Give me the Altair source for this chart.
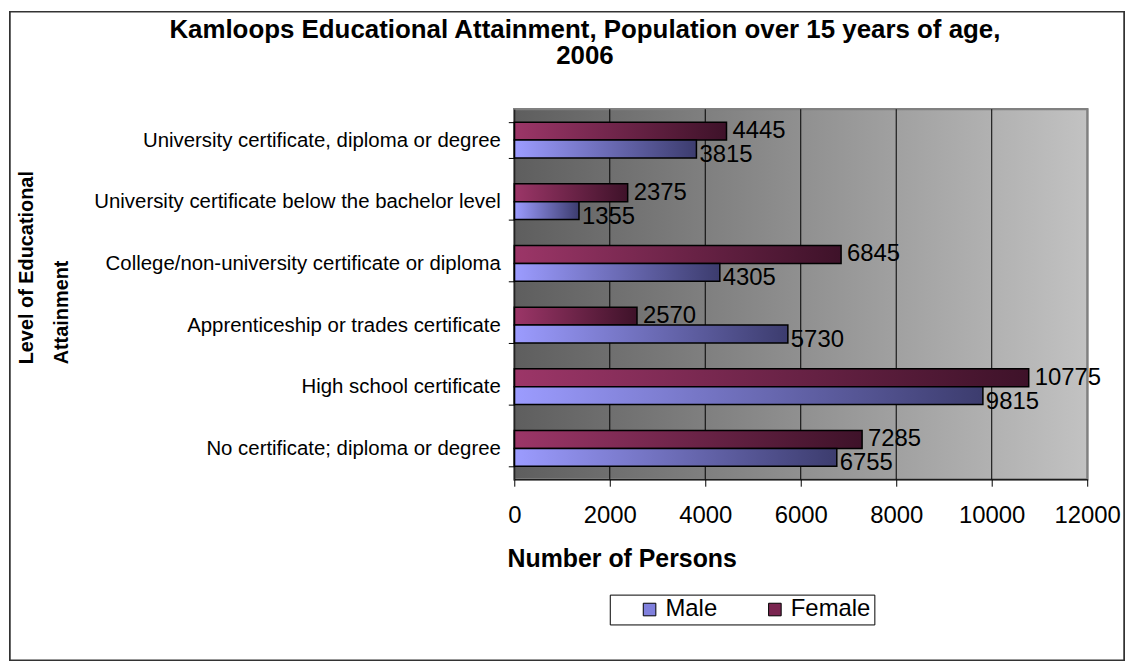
import altair as alt
import pandas as pd

categories = [
    "University certificate, diploma or degree",
    "University certificate below  the bachelor level",
    "College/non-university certificate or diploma",
    "Apprenticeship or trades certificate",
    "High school certificate",
    "No certificate; diploma or degree",
]
male = [3815, 1355, 4305, 5730, 9815, 6755]
female = [4445, 2375, 6845, 2570, 10775, 7285]
x_ticks = [0, 2000, 4000, 6000, 8000, 10000, 12000]
grid_values = [2000, 4000, 6000, 8000, 10000]
sexes = ["Female", "Male"]
legend_order = ["Male", "Female"]

rows = []
for c, m, f in zip(categories, male, female):
    rows.append({"category": c, "sex": "Female", "value": f})
    rows.append({"category": c, "sex": "Male", "value": m})
df = pd.DataFrame(rows)
grid_df = pd.DataFrame({"value": grid_values})

W, H = 576, 372
FONT = "Liberation Sans"
XTITLE = "Number of Persons"
YTITLE = ["Level of Educational", "Attainment"]


def grad(c0, c1):
    return alt.Gradient(
        gradient="linear",
        stops=[alt.GradientStop(color=c0, offset=0), alt.GradientStop(color=c1, offset=1)],
        x1=0, x2=1, y1=0, y2=0,
    )


x_scale = alt.Scale(domain=[0, 12000], nice=False, zero=True)
y_scale = alt.Scale(paddingInner=0.42, paddingOuter=0.21)
yoff_scale = alt.Scale(domain=sexes, paddingInner=0, paddingOuter=0)

x_axis = alt.Axis(
    values=x_ticks, grid=False, tickSize=7, labelFontSize=24, labelPadding=18,
    labelFont=FONT, labelColor="black", domainColor="black", tickColor="black",
    titleFont=FONT, titleFontSize=25, titleFontWeight="bold", titleColor="black",
    titleX=108, titleY=88, titleAlign="center", titleBaseline="alphabetic",
    zindex=1, labelFlush=False, format="d",
)
y_axis = alt.Axis(
    tickBand="extent", grid=False, tickSize=6, labelFontSize=20.5, labelPadding=8,
    labelFont=FONT, labelColor="black", labelLimit=600, domainColor="black", tickColor="black",
    titleFont=FONT, titleFontSize=20, titleFontWeight="bold", titleColor="black",
    titleAngle=270, titleX=-484, titleY=256, titleAlign="left",
    titleBaseline="alphabetic", titleLineHeight=35, zindex=1,
)

frame = alt.Chart(grid_df).mark_rect(fill="white", stroke="#333333", strokeWidth=1.5).encode(
    x=alt.value(-507), x2=alt.value(W + 37), y=alt.value(-98), y2=alt.value(H + 182)
)

bg = alt.Chart(grid_df).mark_rect(
    fill=grad("#5e5e5e", "#c2c2c2"), stroke="#808080", strokeWidth=2
).encode(x=alt.value(0), x2=alt.value(W), y=alt.value(0), y2=alt.value(H))

grid = alt.Chart(grid_df).mark_rule(color="black", strokeWidth=1).encode(
    x=alt.X("value:Q", scale=x_scale, title=XTITLE, axis=x_axis),
    y=alt.value(0), y2=alt.value(H),
)

base = alt.Chart(df)
x_enc = alt.X("value:Q", scale=x_scale, title=XTITLE, axis=x_axis)
y_enc = alt.Y("category:N", sort=categories, scale=y_scale, title=YTITLE, axis=y_axis)
yo_enc = alt.YOffset("sex:N", scale=yoff_scale)

fem_bar = base.transform_filter(alt.datum.sex == "Female").mark_bar(
    fill=grad("#9c3668", "#3e1229"), stroke="black", strokeWidth=1.5
).encode(x=x_enc, y=y_enc, yOffset=yo_enc)

male_bar = base.transform_filter(alt.datum.sex == "Male").mark_bar(
    fill=grad("#9c9cff", "#3c3c6e"), stroke="black", strokeWidth=1.5
).encode(x=x_enc, y=y_enc, yOffset=yo_enc)

fem_text = base.transform_filter(alt.datum.sex == "Female").mark_text(
    align="left", baseline="middle", dx=6, fontSize=24, font=FONT, color="black"
).encode(x=x_enc, y=y_enc, yOffset=yo_enc, text=alt.Text("value:Q", format="d"))

male_text = base.transform_filter(alt.datum.sex == "Male").mark_text(
    align="left", baseline="middle", dx=3, dy=6, fontSize=24, font=FONT, color="black"
).encode(x=x_enc, y=y_enc, yOffset=yo_enc, text=alt.Text("value:Q", format="d"))

legend_layer = base.mark_square(opacity=0, size=1).encode(
    x=x_enc, y=y_enc, yOffset=yo_enc,
    color=alt.Color(
        "sex:N",
        scale=alt.Scale(domain=legend_order, range=["#8080dd", "#7a2550"]),
        legend=alt.Legend(
            title=None, orient="none", legendX=96, legendY=488, direction="horizontal",
            strokeColor="black", fillColor="white", padding=3,
            labelFont=FONT, labelFontSize=24, labelColor="black",
            symbolType="square", symbolSize=160, symbolStrokeColor="black",
            symbolStrokeWidth=1, symbolOpacity=1, symbolOffset=25,
            labelOffset=4, columnPadding=20,
        ),
    ),
)

chart = alt.layer(
    frame, bg, grid, fem_bar, male_bar, fem_text, male_text, legend_layer
).properties(
    width=W, height=H,
    autosize=alt.AutoSizeParams(type="none"),
    padding={"left": 509, "top": 100, "right": 39, "bottom": 184},
    title=alt.TitleParams(
        text=["Kamloops Educational Attainment, Population over 15 years of age,", "2006"],
        font=FONT, fontSize=26, fontWeight="bold", color="black",
        anchor="middle", frame="group", dx=-217, dy=79, offset=0, lineHeight=26,
        baseline="alphabetic",
    ),
).configure_view(stroke=None).configure(background="white")

chart.save("out.html", embed_options={"renderer": "svg", "actions": False})
